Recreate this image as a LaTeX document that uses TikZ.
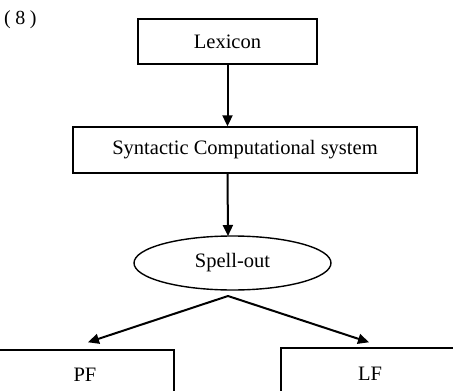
\documentclass[tikz,border=0pt]{standalone}
\usepackage{fontspec}
\setmainfont{Liberation Serif}
\usetikzlibrary{arrows.meta,shapes.geometric}
\begin{document}
\begin{tikzpicture}[x=1pt,y=-1pt,
  box/.style={draw,line width=1.4pt,rectangle,inner sep=0pt,font=\fontsize{20.5}{24}\selectfont},
  oval/.style={draw,line width=1.4pt,ellipse,inner sep=0pt,font=\fontsize{20.5}{24}\selectfont},
  arr/.style={line width=2pt,-{Triangle[length=11pt,width=10pt]}}]
\useasboundingbox (0,0) rectangle (453,391);
\clip (0,0) rectangle (453,391);
\node[anchor=west,inner sep=0pt,font=\fontsize{20}{24}\selectfont] (num) at (4,20) {(\hspace{4.5pt}8\hspace{4.5pt})};
\node[box,minimum width=179pt,minimum height=45pt] (lex) at (227.5,41.5) {Lexicon};
\node[box,minimum width=344pt,minimum height=46pt] (syn) at (245,150) {Syntactic Computational system};
\node[oval,minimum width=197pt,minimum height=54pt] (sp) at (232.5,263) {Spell-out};
\node[box,minimum width=178pt,minimum height=50pt] (pf) at (85,375) {PF};
\node[box,minimum width=178pt,minimum height=52pt] (lf) at (370,374) {LF};
\coordinate (split) at (228,296);
\draw[arr] (lex.south) -- (lex.south |- syn.north);
\draw[arr] (lex.south |- syn.south) -- (228,236);
\draw[arr] (split) -- ([xshift=3pt,yshift=7pt]pf.north);
\draw[arr] (split) -- ([xshift=-1pt,yshift=5pt]lf.north);
\end{tikzpicture}
\end{document}
